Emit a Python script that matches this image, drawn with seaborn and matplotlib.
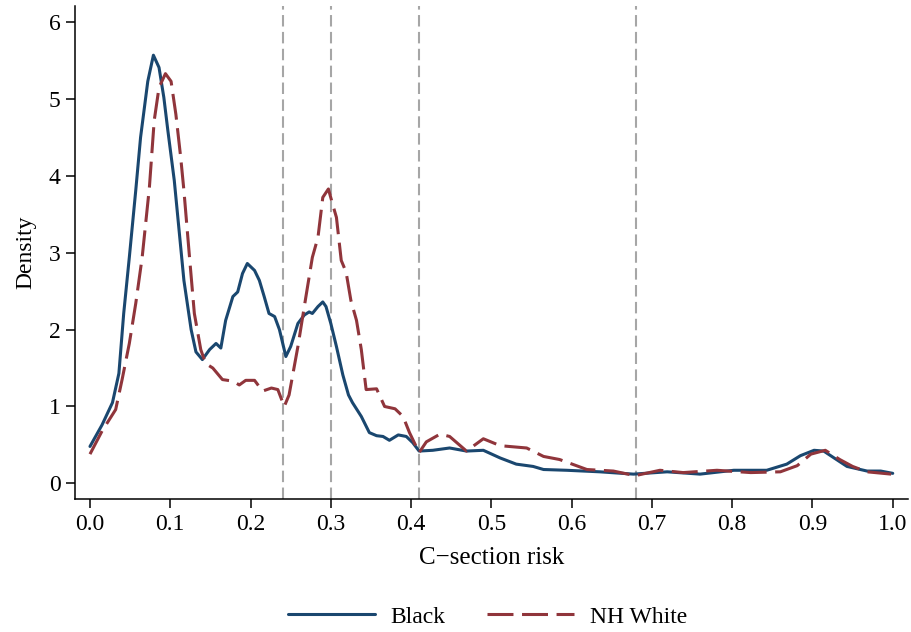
import numpy as np
import pandas as pd
import matplotlib
matplotlib.use("Agg")
import matplotlib.pyplot as plt
import seaborn as sns

black_x = [0.000, 0.015, 0.028, 0.036, 0.042, 0.049, 0.057, 0.063, 0.072, 0.079,
           0.086, 0.092, 0.097, 0.105, 0.111, 0.117, 0.126, 0.132, 0.140, 0.149,
           0.157, 0.163, 0.169, 0.178, 0.184, 0.190, 0.196, 0.205, 0.211, 0.217,
           0.223, 0.230, 0.236, 0.244, 0.250, 0.259, 0.267, 0.273, 0.277, 0.284,
           0.290, 0.294, 0.300, 0.307, 0.315, 0.322, 0.327, 0.338, 0.348, 0.357,
           0.365, 0.373, 0.384, 0.394, 0.402, 0.410, 0.427, 0.448, 0.469, 0.490,
           0.511, 0.531, 0.552, 0.565, 0.594, 0.635, 0.677, 0.719, 0.760, 0.802,
           0.843, 0.868, 0.885, 0.902, 0.914, 0.927, 0.943, 0.968, 0.985, 1.000]
black_y = [0.48, 0.76, 1.05, 1.43, 2.21, 2.94, 3.81, 4.50, 5.23, 5.57,
           5.41, 5.02, 4.59, 3.94, 3.29, 2.64, 2.00, 1.71, 1.61, 1.74,
           1.82, 1.76, 2.12, 2.43, 2.49, 2.73, 2.86, 2.77, 2.64, 2.43,
           2.21, 2.17, 2.00, 1.65, 1.78, 2.08, 2.19, 2.23, 2.21, 2.30,
           2.36, 2.30, 2.08, 1.78, 1.41, 1.15, 1.05, 0.87, 0.66, 0.62,
           0.61, 0.56, 0.63, 0.61, 0.53, 0.42, 0.43, 0.46, 0.42, 0.43,
           0.33, 0.25, 0.22, 0.18, 0.17, 0.15, 0.12, 0.15, 0.12, 0.17,
           0.17, 0.25, 0.36, 0.43, 0.42, 0.33, 0.22, 0.16, 0.16, 0.13]

white_x = [0.000, 0.015, 0.032, 0.040, 0.049, 0.057, 0.065, 0.074, 0.080, 0.086,
           0.094, 0.101, 0.107, 0.113, 0.117, 0.124, 0.130, 0.138, 0.144, 0.153,
           0.165, 0.178, 0.186, 0.194, 0.205, 0.215, 0.226, 0.234, 0.242, 0.248,
           0.259, 0.269, 0.277, 0.284, 0.290, 0.297, 0.302, 0.307, 0.313, 0.319,
           0.325, 0.332, 0.338, 0.344, 0.357, 0.367, 0.380, 0.390, 0.398, 0.410,
           0.419, 0.436, 0.448, 0.469, 0.490, 0.511, 0.544, 0.565, 0.585, 0.619,
           0.652, 0.679, 0.710, 0.739, 0.781, 0.823, 0.860, 0.881, 0.898, 0.916,
           0.934, 0.950, 0.968, 0.998]
white_y = [0.38, 0.68, 0.96, 1.35, 1.82, 2.34, 2.94, 3.85, 4.72, 5.15,
           5.33, 5.23, 4.80, 4.24, 3.81, 2.94, 2.21, 1.74, 1.56, 1.50,
           1.35, 1.33, 1.28, 1.34, 1.34, 1.20, 1.24, 1.22, 1.00, 1.15,
           1.78, 2.43, 2.94, 3.20, 3.72, 3.83, 3.64, 3.46, 2.90, 2.75,
           2.38, 2.12, 1.74, 1.22, 1.23, 1.00, 0.97, 0.87, 0.66, 0.40,
           0.54, 0.64, 0.61, 0.42, 0.58, 0.49, 0.46, 0.35, 0.31, 0.18,
           0.16, 0.10, 0.17, 0.14, 0.17, 0.14, 0.15, 0.23, 0.38, 0.43,
           0.31, 0.22, 0.15, 0.12]

cutoffs = [0.24, 0.30, 0.41, 0.68]
x_ticks = [0.0, 0.1, 0.2, 0.3, 0.4, 0.5, 0.6, 0.7, 0.8, 0.9, 1.0]
x_tick_labels = ["0.0", "0.1", "0.2", "0.3", "0.4", "0.5", "0.6", "0.7", "0.8", "0.9", "1.0"]
y_ticks = [0, 1, 2, 3, 4, 5, 6]
y_tick_labels = ["0", "1", "2", "3", "4", "5", "6"]
series_names = ["Black", "NH White"]

df_black = pd.DataFrame({"x": black_x, "y": black_y})
df_white = pd.DataFrame({"x": white_x, "y": white_y})

sns.set_style("ticks")
plt.rcParams["font.family"] = ["Liberation Serif", "DejaVu Serif"]
plt.rcParams["axes.unicode_minus"] = True
plt.rcParams["text.color"] = "black"
plt.rcParams["axes.labelcolor"] = "black"
plt.rcParams["xtick.color"] = "black"
plt.rcParams["ytick.color"] = "black"

fig = plt.figure(figsize=(9.11, 6.32), dpi=100)
ax = fig.add_axes([0.0823, 0.2104, 0.9967 - 0.0823, 0.9905 - 0.2104])

navy = "#1a476f"
maroon = "#90353b"

sns.lineplot(data=df_black, x="x", y="y", ax=ax, color=navy, linewidth=2.2,
             sort=False, label=series_names[0])
sns.lineplot(data=df_white, x="x", y="y", ax=ax, color=maroon, linewidth=2.2,
             sort=False, label=series_names[1])
ax.lines[1].set_dashes([8.5, 2.8])

for c in cutoffs:
    ax.axvline(c, color="#a6a6a6", linewidth=1.5, dashes=(5.5, 2.6), zorder=0)

ax.set_xlim(-0.0187, 1.019)
ax.set_ylim(-0.204, 6.21)
ax.set_xticks(x_ticks)
ax.set_xticklabels(x_tick_labels)
ax.set_yticks(y_ticks)
ax.set_yticklabels(y_tick_labels)
ax.tick_params(axis="both", labelsize=17, length=6.5, width=1.1, color="black",
               labelcolor="black", direction="out", pad=4)
for s in ["left", "bottom"]:
    ax.spines[s].set_linewidth(1.1)
    ax.spines[s].set_color("black")
sns.despine(ax=ax)

ax.set_xlabel("C\u2212section risk", fontsize=18, labelpad=9, color="black")
ax.set_ylabel("Density", fontsize=17, labelpad=9, color="black")

handles, labels = ax.get_legend_handles_labels()
ax.get_legend().remove()
fig.legend(handles, labels, loc="center", bbox_to_anchor=(0.535, 0.024), ncol=2,
           frameon=False, fontsize=17, handlelength=3.7, handletextpad=0.65,
           columnspacing=1.75, labelcolor="black")

fig.savefig("out.png", dpi=100, facecolor="white")
